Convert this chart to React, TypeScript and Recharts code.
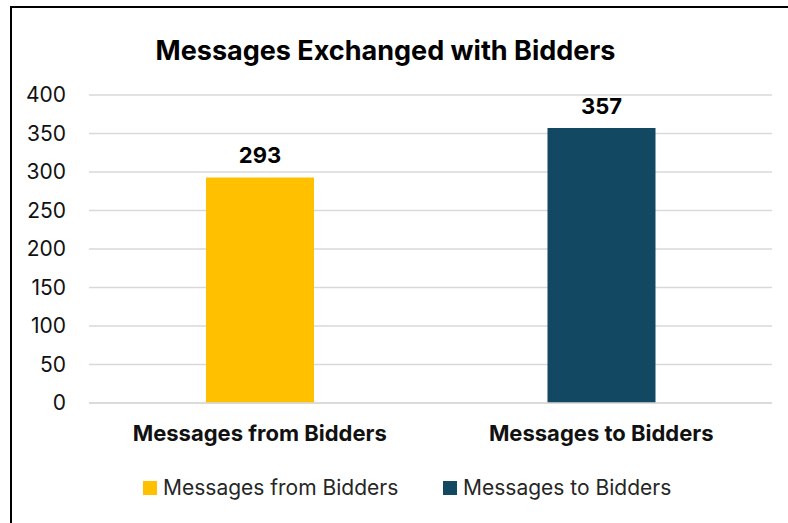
import { BarChart, Bar, XAxis, YAxis, CartesianGrid, LabelList } from "recharts";

const categories = ["Messages from Bidders", "Messages to Bidders"];
const fromBidders = [293, null];
const toBidders = [null, 357];
const yTicks = [0, 50, 100, 150, 200, 250, 300, 350, 400];

const data = categories.map((name, i) => ({
  name,
  from: fromBidders[i],
  to: toBidders[i],
}));

const FONT = "Inter, 'Noto Sans', sans-serif";
const YELLOW = "#FFC000";
const NAVY = "#124862";

// legend drawn outside the chart so it does not eat into the plot height
function ChartLegend() {
  const items = [
    { label: categories[0], color: YELLOW, left: 143 },
    { label: categories[1], color: NAVY, left: 443 },
  ];
  return (
    <>
      {items.map((it) => (
        <div
          key={it.label}
          style={{
            position: "absolute",
            left: it.left,
            top: 475,
            display: "flex",
            alignItems: "center",
            fontFamily: FONT,
            fontSize: 21,
            color: "#262626",
            whiteSpace: "nowrap",
          }}
        >
          <span style={{ width: 14, height: 14, background: it.color, marginRight: 6, display: "inline-block" }} />
          {it.label}
        </div>
      ))}
    </>
  );
}

const hideEmpty = (v: any) => (v == null ? "" : v);
const labelStyle = { fill: "#000", fontSize: 22, fontWeight: 700, fontFamily: FONT };

export default function App() {
  return (
    <div style={{ position: "absolute", left: 0, top: 0, width: 788, height: 523, overflow: "hidden", background: "#fff" }}>
      <div style={{ position: "absolute", left: 10, top: 6, width: 820, height: 560, border: "2px solid #000", boxSizing: "border-box" }} />
      <div
        style={{
          position: "absolute",
          left: 0,
          width: 771,
          top: 34,
          textAlign: "center",
          fontFamily: FONT,
          fontWeight: 700,
          fontSize: 27,
          color: "#000",
        }}
      >
        Messages Exchanged with Bidders
      </div>
      <div style={{ position: "absolute", left: 0, top: 0 }}>
        <BarChart width={788} height={523} data={data} margin={{ top: 95, right: 16, left: 0, bottom: 90 }}>
          <CartesianGrid vertical={false} stroke="#d9d9d9" strokeWidth={1.5} />
          <XAxis
            dataKey="name"
            height={30}
            axisLine={{ stroke: "#d9d9d9", strokeWidth: 1.5 }}
            tickLine={false}
            tickSize={0}
            tickMargin={22}
            tick={{ fill: "#111", fontSize: 22, fontWeight: 700, fontFamily: FONT }}
          />
          <YAxis
            width={89}
            domain={[0, 400]}
            ticks={yTicks}
            axisLine={false}
            tickLine={false}
            tickSize={0}
            tickMargin={23}
            tick={{ fill: "#111", fontSize: 21, fontFamily: FONT }}
          />
          <Bar dataKey="from" name={categories[0]} stackId="a" fill={YELLOW} barSize={108} isAnimationActive={false}>
            <LabelList dataKey="from" position="top" offset={14} formatter={hideEmpty} style={labelStyle} />
          </Bar>
          <Bar dataKey="to" name={categories[1]} stackId="a" fill={NAVY} barSize={108} isAnimationActive={false}>
            <LabelList dataKey="to" position="top" offset={14} formatter={hideEmpty} style={labelStyle} />
          </Bar>
        </BarChart>
      </div>
      <ChartLegend />
    </div>
  );
}
